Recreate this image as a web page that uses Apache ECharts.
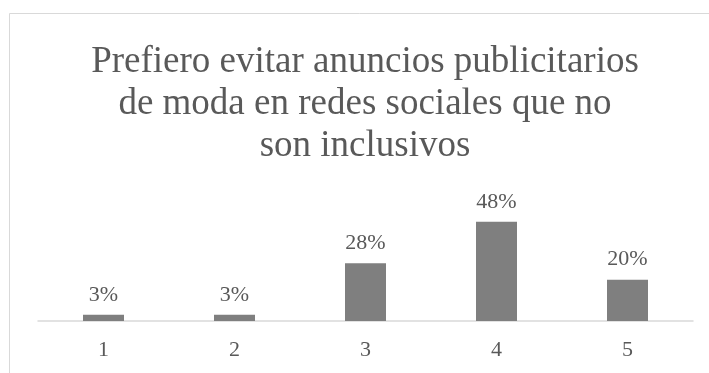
<!DOCTYPE html>
<html>
<head>
<meta charset="utf-8">
<script src="https://cdn.jsdelivr.net/npm/echarts@6/dist/echarts.min.js"></script>
<style>
html,body{margin:0;padding:0;background:#fff;}
#chart{width:709px;height:373px;}
</style>
</head>
<body>
<div id="chart"></div>
<script>
const titleText = "Prefiero evitar anuncios publicitarios\nde moda en redes sociales que no\nson inclusivos";
const categories = ["1", "2", "3", "4", "5"];
const values = [3, 3, 28, 48, 20];

const chart = echarts.init(document.getElementById('chart'), null, {renderer: 'canvas'});
chart.setOption({
  animation: false,
  backgroundColor: '#ffffff',
  graphic: [{
    type: 'rect',
    shape: {x: 9.5, y: 13.5, width: 800, height: 500},
    style: {fill: 'none', stroke: '#d9d9d9', lineWidth: 1},
    silent: true
  }],
  title: {
    text: titleText,
    left: 360,
    textAlign: 'center',
    top: 36,
    textStyle: {
      fontFamily: '"Liberation Serif", "Times New Roman", serif',
      fontSize: 37,
      fontWeight: 'normal',
      color: '#595959',
      lineHeight: 42
    }
  },
  grid: {left: 38, right: 16, top: 197, bottom: 52},
  xAxis: {
    type: 'category',
    data: categories,
    axisLine: {show: true, lineStyle: {color: '#d9d9d9', width: 1.5}},
    axisTick: {show: false},
    axisLabel: {
      margin: 18,
      fontFamily: '"Liberation Serif", "Times New Roman", serif',
      fontSize: 22,
      color: '#595959'
    }
  },
  yAxis: {
    type: 'value',
    min: 0,
    max: 60,
    show: false,
    splitLine: {show: false}
  },
  series: [{
    type: 'bar',
    data: values,
    barWidth: 41,
    itemStyle: {color: '#7f7f7f'},
    label: {
      show: true,
      position: 'top',
      distance: 9,
      formatter: p => p.value + '%',
      fontFamily: '"Liberation Serif", "Times New Roman", serif',
      fontSize: 22,
      color: '#595959'
    }
  }]
});
</script>
</body>
</html>
